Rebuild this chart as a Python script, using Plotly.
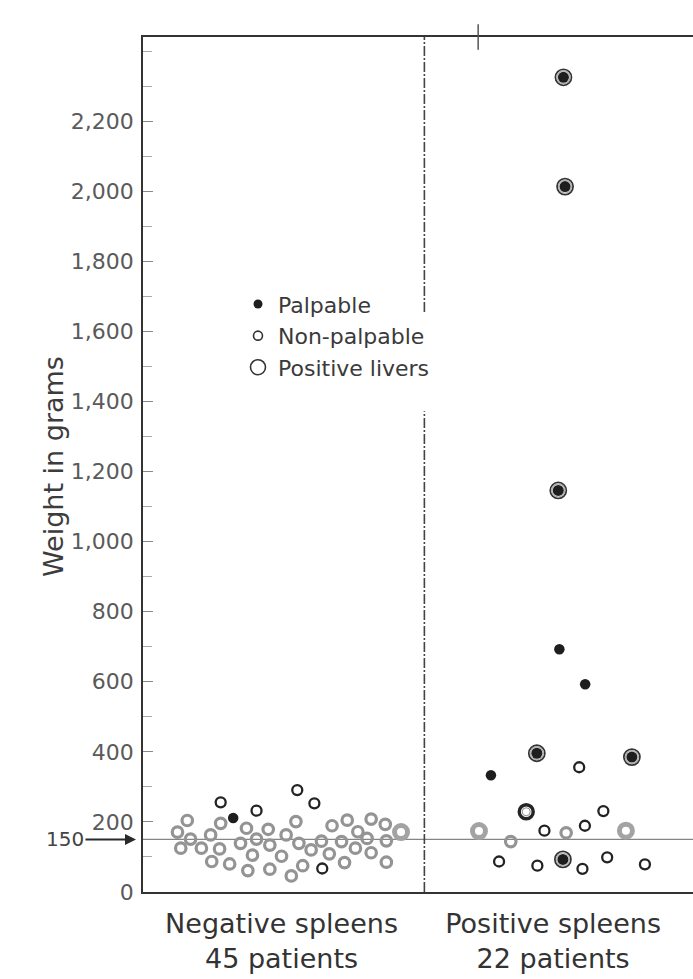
import plotly.graph_objects as go

# ---------------- data ----------------
categories = ["Negative spleens<br>45 patients", "Positive spleens<br>22 patients"]
category_pos = [1, 2]

y_tick_vals = [0, 200, 400, 600, 800, 1000, 1200, 1400, 1600, 1800, 2000, 2200]
y_tick_text = ["0", "200", "400", "600", "800", "1,000", "1,200", "1,400",
               "1,600", "1,800", "2,000", "2,200"]

reference_weight = 150

# negative spleens: jittered column position, weight (g), kind of mark
neg_x = [0.653, 0.617, 0.665, 0.629, 0.705, 0.739, 0.776, 0.776, 0.822, 0.772,
         0.743, 0.809, 0.849, 0.871, 0.908, 0.908, 0.951, 0.957, 0.893, 0.876,
         0.957, 1.000, 1.017, 1.053, 1.058, 1.064, 1.078, 1.036, 1.121, 1.109,
         1.147, 1.150, 1.176, 1.186, 1.221, 1.232, 1.242, 1.272, 1.281, 1.315,
         1.330, 1.330, 1.382, 1.386, 1.386, 1.440]
neg_g = [204, 171, 151, 125, 125, 163, 196, 256, 211, 123,
         87, 80, 139, 182, 232, 151, 179, 134, 105, 61,
         65, 102, 163, 201, 291, 139, 75, 46, 253, 120,
         145, 67, 109, 189, 144, 84, 205, 125, 172, 153,
         112, 208, 193, 146, 85, 171]
neg_kind = ["ring_faint"] * 7 + ["ring", "dot"] + ["ring_faint"] * 5 + ["ring"] + \
           ["ring_faint"] * 9 + ["ring"] + ["ring_faint"] * 3 + ["ring"] + \
           ["ring_faint"] * 2 + ["ring"] + ["ring_faint"] * 13 + ["liver_faint"]

# positive spleens
pos_x = [2.038, 2.044, 2.019, 2.023, 2.118, 1.940, 2.290, 1.771, 2.096, 1.901,
         2.185, 1.727, 1.968, 2.048, 2.117, 2.268, 1.844, 1.801, 1.942, 2.036,
         2.108, 2.199, 2.338]
pos_g = [2325, 2013, 1146, 693, 593, 396, 385, 333, 356, 229,
         231, 174, 175, 169, 189, 175, 144, 87, 75, 93,
         66, 99, 79]
pos_kind = ["dot_liver", "dot_liver", "dot_liver", "dot", "dot", "dot_liver",
            "dot_liver", "dot", "ring", "liver", "ring", "liver_faint", "ring",
            "ring_faint", "ring", "liver_faint", "ring_faint", "ring", "ring",
            "dot_liver", "ring", "ring", "ring"]

legend_labels = ["Palpable", "Non-palpable", "Positive livers"]

# ---------------- styles ----------------
INK = "#1e1e1e"


def ring(size, width, color):
    return dict(symbol="circle-open", size=size, color=color,
                line=dict(width=width, color=color))


def dot(size, color):
    return dict(symbol="circle", size=size, color=color, line=dict(width=0))


styles = {
    "ring_faint": [ring(10.5, 3.2, "#949494")],
    "ring": [ring(10, 2.3, "#232323")],
    "dot": [dot(10.5, INK)],
    "liver_faint": [ring(13, 5, "#a3a3a3")],
    "liver": [ring(14, 3.4, "#242424"), ring(8, 1, "#8a8a8a")],
    "dot_liver": [ring(16, 1.8, "#333333"), ring(13, 1.4, "#b0b0b0"), dot(11, INK)],
}
draw_order = ["ring_faint", "liver_faint", "ring", "liver", "dot_liver", "dot"]

all_x = neg_x + pos_x
all_g = neg_g + pos_g
all_kind = neg_kind + pos_kind

fig = go.Figure()

for kind in draw_order:
    xs = [x for x, k in zip(all_x, all_kind) if k == kind]
    ys = [g for g, k in zip(all_g, all_kind) if k == kind]
    for layer in styles[kind]:
        fig.add_trace(go.Scatter(x=xs, y=ys, mode="markers", marker=layer,
                                 showlegend=False, hoverinfo="skip"))

# legend entries
legend_markers = [dot(9, INK), ring(9, 1.6, "#333333"), ring(15, 1.6, "#333333")]
for lab, mk in zip(legend_labels, legend_markers):
    fig.add_trace(go.Scatter(x=[None], y=[None], mode="markers", marker=mk,
                             name=lab, showlegend=True))

TXT = "DejaVu Sans"
divider = 1.526
y_top = 2440

fig.add_shape(type="line", x0=divider, x1=divider, y0=0, y1=1372,
              line=dict(color="#444", width=1.6, dash="10px,2px,2px,2px"), layer="below")
fig.add_shape(type="line", x0=divider, x1=divider, y0=1655, y1=y_top,
              line=dict(color="#444", width=1.6, dash="10px,2px,2px,2px"), layer="below")
fig.add_shape(type="line", xref="paper", x0=0, x1=1, y0=reference_weight, y1=reference_weight,
              line=dict(color="#858585", width=1.2), layer="below")
# small mark at the top border
fig.add_shape(type="line", x0=1.724, x1=1.724, yref="paper", y0=0.985, y1=1.015,
              line=dict(color="#555", width=1.5))

fig.add_annotation(text="150", x=0, xref="paper", y=reference_weight, yref="y",
                   ax=-78, ay=0, axref="pixel", ayref="pixel",
                   showarrow=True, arrowhead=2, arrowsize=1.1, arrowwidth=2,
                   arrowcolor="#2a2a2a", standoff=7,
                   font=dict(family=TXT, size=20, color="#444"))

fig.add_annotation(text="Weight in grams", textangle=-90, xref="paper", yref="paper",
                   x=-0.1636, y=0.497, showarrow=False, xanchor="center", yanchor="middle",
                   font=dict(family=TXT, size=27, color="#3c3c3c"))

fig.update_layout(
    width=693, height=979,
    margin=dict(l=143, r=0, t=37, b=87),
    paper_bgcolor="white", plot_bgcolor="white",
    font=dict(family=TXT, color="#444"),
    legend=dict(x=0.1727, y=0.712, xanchor="left", yanchor="top",
                bgcolor="rgba(0,0,0,0)", font=dict(family=TXT, size=22, color="#3a3a3a"),
                itemclick=False),
    xaxis=dict(range=[0.49, 2.515], tickvals=category_pos, ticktext=categories,
               showgrid=False, zeroline=False, showline=True, mirror=True,
               linecolor="#333", linewidth=1.8, ticks="", ticklabelstandoff=7,
               tickfont=dict(family=TXT, size=27, color="#333")),
    yaxis=dict(range=[0, y_top], tickvals=y_tick_vals, ticktext=y_tick_text,
               showgrid=False, zeroline=False, showline=True, linecolor="#333",
               linewidth=1.8, ticks="inside", ticklen=10, tickcolor="#888",
               tickwidth=1.2, ticklabelstandoff=3,
               tickfont=dict(family=TXT, size=22, color="#5a5a5a"),
               minor=dict(dtick=100, ticks="inside", ticklen=9, tickcolor="#aaa",
                          tickwidth=1, showgrid=False)),
)

fig.write_html("out.html", config={"displayModeBar": False},
               post_script="document.body.style.margin='0';")
